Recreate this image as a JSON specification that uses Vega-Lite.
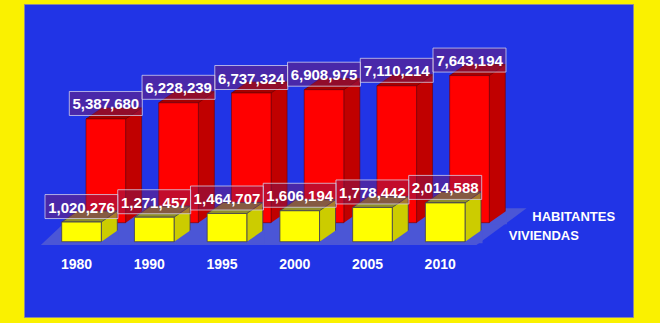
{
  "$schema": "https://vega.github.io/schema/vega-lite/v6.json",
  "width": 609,
  "height": 313,
  "autosize": {"type": "none"},
  "padding": {"left": 24, "top": 4, "right": 27, "bottom": 6},
  "background": "#FAF100",
  "config": {
    "view": {"fill": "#2134E6", "stroke": "#8a8a9a", "strokeWidth": 1},
    "axis": {"disable": true}
  },
  "data": {
    "values": [
      {"year": "1980", "habitantes": 5387680, "viviendas": 1020276},
      {"year": "1990", "habitantes": 6228239, "viviendas": 1271457},
      {"year": "1995", "habitantes": 6737324, "viviendas": 1464707},
      {"year": "2000", "habitantes": 6908975, "viviendas": 1606194},
      {"year": "2005", "habitantes": 7110214, "viviendas": 1778442},
      {"year": "2010", "habitantes": 7643194, "viviendas": 2014588}
    ]
  },
  "layer": [
    {
      "data": {"values": [{}]},
      "mark": {"type": "point", "filled": true, "opacity": 1, "size": 4, "fill": "#4B56D6", "strokeWidth": 0,
               "shape": "M-40.7,3.3L395,3.3L445,-33.4L-1.7,-33.4Z"},
      "encoding": {
        "x": {"datum": "1980", "type": "ordinal", "scale": {"domain": ["1980","1990","1995","2000","2005","2010"], "range": [37.7, 441], "paddingInner": 0.4553, "paddingOuter": 0}},
        "y": {"datum": 0, "type": "quantitative", "scale": {"domain": [-3912000, 12348000], "nice": false, "zero": false}}
      }
    },
    {
      "mark": {"type": "bar", "width": 16, "xOffset": 52.1, "yOffset": -30, "y2Offset": -19, "fill": "#C00000", "stroke": "#700000", "strokeWidth": 0.6},
      "encoding": {
        "x": {"field": "year", "type": "ordinal"},
        "y": {"field": "habitantes", "type": "quantitative"},
        "y2": {"datum": 0}
      }
    },
    {
      "mark": {"type": "point", "filled": true, "opacity": 1, "size": 4, "fill": "#4B56D6", "strokeWidth": 0, "xOffset": 24.3, "yOffset": -19,
               "shape": "M17.7,1.5L37.4,1.5L37.4,-12.1Z"},
      "encoding": {
        "x": {"field": "year", "type": "ordinal"},
        "y": {"datum": 0, "type": "quantitative"}
      }
    },
    {
      "mark": {"type": "point", "filled": true, "opacity": 1, "size": 4, "fill": "#A40000", "stroke": "#600000", "strokeWidth": 0.6, "xOffset": 24.3, "yOffset": -19,
               "shape": "M-19.8,0L19.8,0L35.8,-11L-3.8,-11Z"},
      "encoding": {
        "x": {"field": "year", "type": "ordinal"},
        "y": {"field": "habitantes", "type": "quantitative"}
      }
    },
    {
      "mark": {"type": "bar", "xOffset": 24.3, "yOffset": -19, "y2Offset": -19, "fill": "#FF0000", "stroke": "#700000", "strokeWidth": 0.6},
      "encoding": {
        "x": {"field": "year", "type": "ordinal"},
        "y": {"field": "habitantes", "type": "quantitative"},
        "y2": {"datum": 0}
      }
    },
    {
      "mark": {"type": "bar", "width": 16, "xOffset": 27.8, "yOffset": -11, "y2Offset": 0, "fill": "#CCCC00", "stroke": "#3C3C55", "strokeWidth": 0.8},
      "encoding": {
        "x": {"field": "year", "type": "ordinal"},
        "y": {"field": "viviendas", "type": "quantitative"},
        "y2": {"datum": 0}
      }
    },
    {
      "mark": {"type": "point", "filled": true, "opacity": 1, "size": 4, "fill": "#4B56D6", "strokeWidth": 0,
               "shape": "M17.7,1.5L37.4,1.5L37.4,-12.1Z"},
      "encoding": {
        "x": {"field": "year", "type": "ordinal"},
        "y": {"datum": 0, "type": "quantitative"}
      }
    },
    {
      "mark": {"type": "point", "filled": true, "opacity": 1, "size": 4, "fill": "#8F8F2A", "stroke": "#3C3C55", "strokeWidth": 0.8,
               "shape": "M-19.8,0L19.8,0L35.8,-11L-3.8,-11Z"},
      "encoding": {
        "x": {"field": "year", "type": "ordinal"},
        "y": {"field": "viviendas", "type": "quantitative"}
      }
    },
    {
      "mark": {"type": "bar", "fill": "#FFFF00", "stroke": "#3C3C55", "strokeWidth": 0.8},
      "encoding": {
        "x": {"field": "year", "type": "ordinal"},
        "y": {"field": "viviendas", "type": "quantitative"},
        "y2": {"datum": 0}
      }
    },
    {
      "mark": {"type": "point", "filled": true, "opacity": 1, "size": 4, "fill": "#7A1A60", "fillOpacity": 0.45, "stroke": "#D8D8F0", "strokeOpacity": 0.75, "strokeWidth": 1, "xOffset": 24.3, "yOffset": -34.5,
               "shape": "M-36.5,-12L36.5,-12L36.5,12L-36.5,12Z"},
      "encoding": {
        "x": {"field": "year", "type": "ordinal"},
        "y": {"field": "habitantes", "type": "quantitative"}
      }
    },
    {
      "mark": {"type": "text", "font": "Liberation Sans", "fontSize": 15, "fontWeight": "bold", "fill": "#FFFFFF", "align": "center", "baseline": "middle", "xOffset": 24.3, "yOffset": -33.5},
      "encoding": {
        "x": {"field": "year", "type": "ordinal"},
        "y": {"field": "habitantes", "type": "quantitative"},
        "text": {"field": "habitantes", "type": "quantitative", "format": ",d"}
      }
    },
    {
      "mark": {"type": "point", "filled": true, "opacity": 1, "size": 4, "fill": "#7A1A60", "fillOpacity": 0.45, "stroke": "#D8D8F0", "strokeOpacity": 0.75, "strokeWidth": 1, "yOffset": -15.5,
               "shape": "M-36.5,-12L36.5,-12L36.5,12L-36.5,12Z"},
      "encoding": {
        "x": {"field": "year", "type": "ordinal"},
        "y": {"field": "viviendas", "type": "quantitative"}
      }
    },
    {
      "mark": {"type": "text", "font": "Liberation Sans", "fontSize": 15, "fontWeight": "bold", "fill": "#FFFFFF", "align": "center", "baseline": "middle", "yOffset": -14.5},
      "encoding": {
        "x": {"field": "year", "type": "ordinal"},
        "y": {"field": "viviendas", "type": "quantitative"},
        "text": {"field": "viviendas", "type": "quantitative", "format": ",d"}
      }
    },
    {
      "mark": {"type": "text", "font": "Liberation Sans", "fontSize": 14, "fontWeight": "bold", "fill": "#FFFFFF", "align": "center", "baseline": "middle", "dx": -5, "dy": 23.5},
      "encoding": {
        "x": {"field": "year", "type": "ordinal"},
        "y": {"datum": 0, "type": "quantitative"},
        "text": {"field": "year"}
      }
    },
    {
      "data": {"values": [{"serie": "HABITANTES"}]},
      "mark": {"type": "text", "font": "Liberation Sans", "fontSize": 13, "fontWeight": "bold", "fill": "#FFFFFF", "align": "center", "baseline": "middle", "dx": 128.5, "dy": -24.4},
      "encoding": {
        "x": {"datum": "2010", "type": "ordinal"},
        "y": {"datum": 0, "type": "quantitative"},
        "text": {"field": "serie"}
      }
    },
    {
      "data": {"values": [{"serie": "VIVIENDAS"}]},
      "mark": {"type": "text", "font": "Liberation Sans", "fontSize": 13, "fontWeight": "bold", "fill": "#FFFFFF", "align": "center", "baseline": "middle", "dx": 98.6, "dy": -6},
      "encoding": {
        "x": {"datum": "2010", "type": "ordinal"},
        "y": {"datum": 0, "type": "quantitative"},
        "text": {"field": "serie"}
      }
    }
  ]
}
